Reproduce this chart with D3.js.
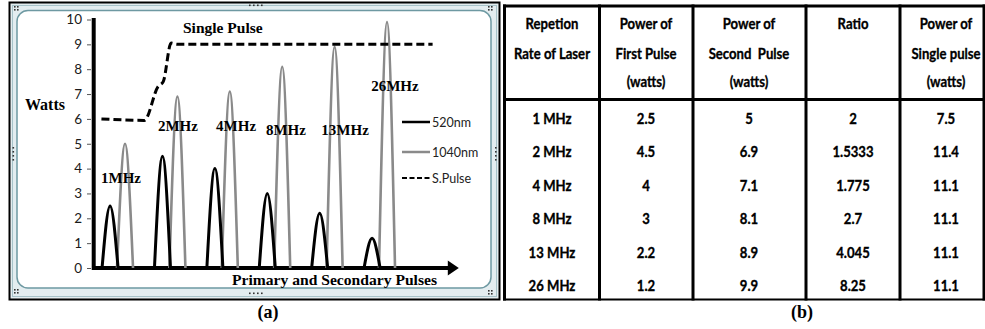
<!DOCTYPE html>
<html>
<head>
<meta charset="utf-8">
<script src="https://cdn.jsdelivr.net/npm/d3@7"></script>
<style>
  body { margin: 0; background: #fff; }
  svg { display: block; }
</style>
</head>
<body>
<div id="fig"></div>
<script>
// table / chart data
const rates = ['1 MHz', '2 MHz', '4 MHz', '8 MHz', '13 MHz', '26 MHz'];
const pulseLabels = ['1MHz', '2MHz', '4MHz', '8MHz', '13MHz', '26MHz'];
const firstPulse = [2.5, 4.5, 4, 3, 2.2, 1.2];     // 520nm
const secondPulse = [5, 6.9, 7.1, 8.1, 8.9, 9.9];  // 1040nm
const ratio = ['2', '1.5333', '1.775', '2.7', '4.045', '8.25'];
const singlePulse = [7.5, 11.4, 11.1, 11.1, 11.1, 11.1];
const yTicks = [0, 1, 2, 3, 4, 5, 6, 7, 8, 9, 10];
// dashed S.Pulse curve as drawn on the chart: [pulse slot, watts]
const sPulseCurve = [[0.18, 6], [1.0, 5.94], [1.26, 7.3], [1.36, 7.5], [1.51, 9.05], [1.62, 9], [6.5, 9]];
const headers = [
  ['Repetion', 'Rate of Laser'],
  ['Power of', 'First Pulse', '(watts)'],
  ['Power of', 'Second  Pulse', '(watts)'],
  ['Ratio'],
  ['Power of', 'Single pulse', '(watts)']
];
const legendItems = ['520nm', '1040nm', 'S.Pulse'];

const W = 985, H = 329;
const svg = d3.select('#fig').append('svg').attr('width', W).attr('height', H);

// ---------- (a) chart frame ----------
const frame = svg.append('g');
frame.append('rect').attr('x', 9.5).attr('y', 2.5).attr('width', 490).attr('height', 297)
  .attr('fill', '#e3edf0').attr('stroke', '#000').attr('stroke-width', 2);
frame.append('rect').attr('x', 12.5).attr('y', 5.5).attr('width', 484).attr('height', 291)
  .attr('fill', 'none').attr('stroke', '#a7c3c9').attr('stroke-width', 1);
frame.append('rect').attr('x', 17).attr('y', 10.5).attr('width', 474).attr('height', 277.5)
  .attr('rx', 11).attr('fill', '#fff').attr('stroke', '#6e99a2').attr('stroke-width', 1.5);

// little selection handles
const dots = [];
[[14, 6], [488, 6], [14, 289], [488, 290]].forEach(([cx, cy]) => {
  dots.push([cx, cy], [cx + 3, cy], [cx, cy + 3], [cx + 3, cy + 3]);
});
[0, 1, 2, 3].forEach(k => {
  dots.push([249 + k * 4, 4.5], [249 + k * 4, 292.5], [12.5, 147 + k * 4], [495, 147 + k * 4]);
});
frame.selectAll('rect.dot').data(dots).enter().append('rect').attr('class', 'dot')
  .attr('x', d => d[0]).attr('y', d => d[1]).attr('width', 1.6).attr('height', 1.6).attr('fill', '#333');

// ---------- scales & axes ----------
const x = d3.scaleLinear().domain([0, 7]).range([92, 458.8]);
const y = d3.scaleLinear().domain([0, 10]).range([268, 19.5]);

const yAxis = svg.append('g').attr('transform', 'translate(91,0)')
  .call(d3.axisLeft(y).tickValues(yTicks).tickSize(4).tickPadding(5));
yAxis.select('.domain').remove();
yAxis.selectAll('.tick line').attr('stroke', '#555');
yAxis.selectAll('.tick text').attr('font-family', 'Lato, sans-serif').attr('font-size', 13.5).attr('fill', '#1a1a1a');

svg.append('line').attr('x1', 93.7).attr('x2', 93.7).attr('y1', y(10) - 1.5).attr('y2', y(0) + 2)
  .attr('stroke', '#000').attr('stroke-width', 4);
svg.append('line').attr('x1', 92).attr('x2', x(7) - 8).attr('y1', y(0)).attr('y2', y(0))
  .attr('stroke', '#000').attr('stroke-width', 4);
svg.append('path')
  .attr('d', `M${x(7) - 11},${y(0) - 7.5}L${x(7)},${y(0)}L${x(7) - 11},${y(0) + 7.5}Z`)
  .attr('fill', '#000');

// ---------- pulses ----------
const hw = 0.153;
const pulse = d3.line().x(d => x(d[0])).y(d => y(d[1])).curve(d3.curveNatural);

svg.selectAll('path.p1040').data(secondPulse).enter().append('path').attr('class', 'p1040')
  .attr('d', (v, i) => pulse([[i + 0.63 - hw, 0], [i + 0.63, v], [i + 0.63 + hw, 0]]))
  .attr('fill', 'none').attr('stroke', '#8a8a8a').attr('stroke-width', 2.6);

svg.selectAll('path.p520').data(firstPulse).enter().append('path').attr('class', 'p520')
  .attr('d', (v, i) => pulse([[i + 0.345 - hw, 0], [i + 0.345, v], [i + 0.345 + hw, 0]]))
  .attr('fill', 'none').attr('stroke', '#000').attr('stroke-width', 3);

// single pulse dashed curve
svg.append('path')
  .attr('d', d3.line().x(d => x(d[0])).y(d => y(d[1])).curve(d3.curveMonotoneX)(sPulseCurve))
  .attr('fill', 'none').attr('stroke', '#000').attr('stroke-width', 3).attr('stroke-dasharray', '8,4');

// ---------- chart texts ----------
const serif = '"Liberation Serif", "Times New Roman", serif';
const labelAt = [[0.553, 3.42], [1.64, 5.51], [2.75, 5.51], [3.70, 5.35], [4.83, 5.35], [5.78, 7.12]];
svg.selectAll('text.fl').data(pulseLabels).enter().append('text').attr('class', 'fl')
  .attr('x', (d, i) => x(labelAt[i][0])).attr('y', (d, i) => y(labelAt[i][1]))
  .attr('text-anchor', 'middle').attr('font-family', serif).attr('font-weight', 'bold')
  .attr('font-size', 15).text(d => d);

svg.append('text').attr('x', 25).attr('y', 110).attr('font-family', serif).attr('font-weight', 'bold')
  .attr('font-size', 16).text('Watts');
svg.append('text').attr('x', 183).attr('y', 33).attr('font-family', serif).attr('font-weight', 'bold')
  .attr('font-size', 15.5).text('Single Pulse');
svg.append('text').attr('x', 232).attr('y', 285).attr('font-family', serif).attr('font-weight', 'bold')
  .attr('font-size', 15.5).attr('textLength', 205).attr('lengthAdjust', 'spacingAndGlyphs')
  .text('Primary and Secondary Pulses');

// legend
const legY = [122, 152, 178];
const leg = svg.selectAll('g.leg').data(legendItems).enter().append('g').attr('class', 'leg')
  .attr('transform', (d, i) => `translate(402,${legY[i]})`);
leg.append('line').attr('x1', 0).attr('x2', 28).attr('y1', 0).attr('y2', 0)
  .attr('stroke', (d, i) => i === 1 ? '#8a8a8a' : '#000')
  .attr('stroke-width', (d, i) => i === 2 ? 2 : 2.5)
  .attr('stroke-dasharray', (d, i) => i === 2 ? '5,2.5' : null);
leg.append('text').attr('x', 30).attr('y', 4.5).attr('font-family', 'Lato, sans-serif')
  .attr('font-size', 12.5).attr('fill', '#222').text(d => d);

svg.append('text').attr('x', 268).attr('y', 318).attr('text-anchor', 'middle')
  .attr('font-family', serif).attr('font-weight', 'bold').attr('font-size', 18).text('(a)');

// ---------- (b) table ----------
const colEdges = [504.5, 599.5, 693, 806, 900, 984];
const colMid = [552, 646, 749, 853, 946];
const tbl = svg.append('g');
const tText = (sel) => sel.attr('text-anchor', 'middle').attr('font-family', 'Lato, sans-serif')
  .attr('font-weight', 'bold').attr('font-size', 16).attr('fill', '#000')
  .attr('stroke', '#000').attr('stroke-width', 0.35).style('white-space', 'pre');

const headY = [29, 59, 87];
headers.forEach((lines, c) => {
  tbl.selectAll(null).data(lines).enter().append('text')
    .attr('transform', (d, k) => `translate(${colMid[c]},${headY[k]}) scale(0.82,1)`)
    .call(tText).text(d => d);
});

const rowY = d3.scalePoint().domain(rates).range([124, 291]);
const cols = [rates, firstPulse, secondPulse, ratio, singlePulse];
cols.forEach((vals, c) => {
  tbl.selectAll(null).data(vals).enter().append('text')
    .attr('transform', (d, r) => `translate(${colMid[c]},${rowY(rates[r])}) scale(0.82,1)`)
    .call(tText).text(d => d);
});

tbl.append('line').attr('x1', colEdges[0] - 1.5).attr('x2', W).attr('y1', 6).attr('y2', 6)
  .attr('stroke', '#000').attr('stroke-width', 3);
tbl.append('line').attr('x1', colEdges[0] - 1.5).attr('x2', W).attr('y1', 99.5).attr('y2', 99.5)
  .attr('stroke', '#000').attr('stroke-width', 3);
tbl.append('line').attr('x1', colEdges[0] - 1.5).attr('x2', W).attr('y1', 299.5).attr('y2', 299.5)
  .attr('stroke', '#000').attr('stroke-width', 2);
tbl.selectAll('line.v').data(colEdges).enter().append('line').attr('class', 'v')
  .attr('x1', d => d).attr('x2', d => d).attr('y1', 4.5).attr('y2', 300.5)
  .attr('stroke', '#000').attr('stroke-width', 3);

svg.append('text').attr('x', 802).attr('y', 318).attr('text-anchor', 'middle')
  .attr('font-family', serif).attr('font-weight', 'bold').attr('font-size', 18).text('(b)');
</script>
</body>
</html>
